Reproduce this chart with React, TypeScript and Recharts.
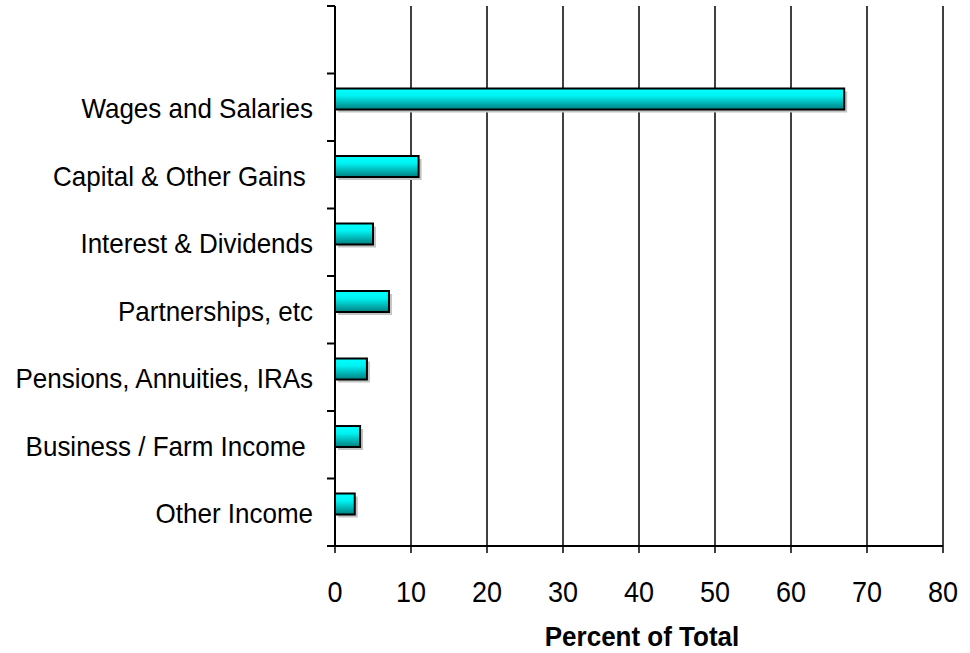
import { BarChart, Bar, XAxis, YAxis, CartesianGrid, Label } from 'recharts';

const categories = [
  '',
  'Wages and Salaries',
  'Capital & Other Gains ',
  'Interest & Dividends',
  'Partnerships, etc',
  'Pensions, Annuities, IRAs',
  'Business / Farm Income ',
  'Other Income',
];
const percentOfTotal = [null, 67, 11, 5, 7.1, 4.2, 3.3, 2.6];
const xTicks = [0, 10, 20, 30, 40, 50, 60, 70, 80];

const data = categories.map((name, i) => ({ name, value: percentOfTotal[i] }));

const W = 970;
const H = 653;
const M = { top: 6, right: 27, bottom: 0, left: 0 };
const X_AXIS_H = 107;
const Y_AXIS_W = 335;
const BAND = (H - M.top - M.bottom - X_AXIS_H) / categories.length;
const FONT = '"Liberation Sans", Arial, sans-serif';
const STRETCH = 1.08;

// text stretched a little vertically, like the original export
const Txt = ({ x, y, anchor, size, bold, children }: any) => (
  <text
    transform={`translate(${x},${y}) scale(1,${STRETCH})`}
    textAnchor={anchor}
    fontSize={size}
    fontWeight={bold ? 'bold' : 'normal'}
    fontFamily={FONT}
    fill="#000"
    style={{ whiteSpace: 'pre' }}
  >
    {children}
  </text>
);

const CategoryTick = ({ y, payload, index }: any) => {
  const axisX = Y_AXIS_W;
  const top = y - BAND / 2;
  return (
    <g>
      <line x1={axisX - 8} x2={axisX} y1={top} y2={top} stroke="#000" strokeWidth={2} />
      {index === categories.length - 1 && (
        <line x1={axisX - 8} x2={axisX} y1={y + BAND / 2} y2={y + BAND / 2} stroke="#000" strokeWidth={2} />
      )}
      <Txt x={313} y={y + 11} anchor="end" size={26}>
        {payload.value}
      </Txt>
    </g>
  );
};

const NumberTick = ({ x, y, payload }: any) => (
  <Txt x={x} y={y + 47} anchor="middle" size={27}>
    {payload.value}
  </Txt>
);

const ShadedBar = ({ x, y, width, height }: any) => {
  if (!width || width <= 0) return null;
  const yy = y - 8;
  return (
    <g>
      <rect x={x + 3} y={yy + 3} width={width} height={height} fill="#c4c4c4" />
      <rect x={x} y={yy} width={width} height={height} fill="url(#barGrad)" stroke="#000" strokeWidth={2} />
    </g>
  );
};

export default function App() {
  return (
    <div style={{ position: 'absolute', left: 0, top: 0, background: '#fff' }}>
      <BarChart width={W} height={H} data={data} layout="vertical" margin={M}>
        <defs>
          <linearGradient id="barGrad" x1="0" y1="0" x2="0" y2="1">
            <stop offset="0%" stopColor="#00ffff" />
            <stop offset="35%" stopColor="#00f2f2" />
            <stop offset="100%" stopColor="#007f7f" />
          </linearGradient>
        </defs>
        <CartesianGrid horizontal={false} stroke="#000" strokeWidth={1.5} />
        <XAxis
          type="number"
          domain={[0, 80]}
          ticks={xTicks}
          interval={0}
          height={X_AXIS_H}
          axisLine={{ stroke: '#000', strokeWidth: 2 }}
          tickLine={{ stroke: '#000', strokeWidth: 1.5 }}
          tickSize={7}
          tick={<NumberTick />}
        >
          <Label
            content={({ viewBox }: any) => (
              <Txt x={viewBox.x + viewBox.width / 2 + 3} y={viewBox.y + 100} anchor="middle" size={26} bold>
                Percent of Total
              </Txt>
            )}
          />
        </XAxis>
        <YAxis
          type="category"
          dataKey="name"
          width={Y_AXIS_W}
          axisLine={{ stroke: '#000', strokeWidth: 2 }}
          tickLine={false}
          interval={0}
          tick={<CategoryTick />}
        />
        <Bar dataKey="value" barSize={21} shape={<ShadedBar />} isAnimationActive={false} />
      </BarChart>
    </div>
  );
}
